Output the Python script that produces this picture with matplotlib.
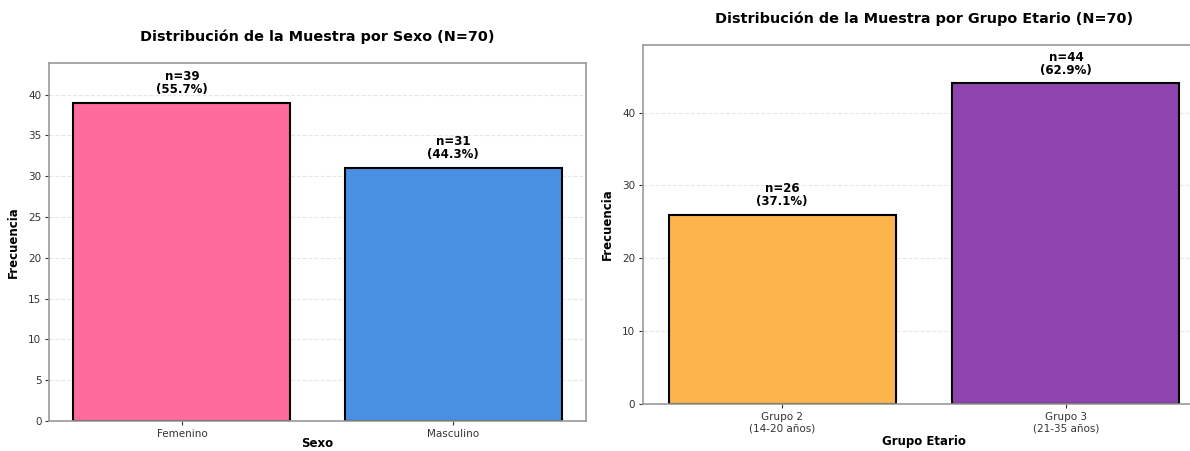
import matplotlib
matplotlib.use("Agg")
import matplotlib.pyplot as plt

N_TOTAL = 70

sexo_labels = ["Femenino", "Masculino"]
sexo_counts = [39, 31]
sexo_colors = ["#FF6B9D", "#4A90E2"]

grupo_labels = ["Grupo 2\n(14-20 años)", "Grupo 3\n(21-35 años)"]
grupo_counts = [26, 44]
grupo_colors = ["#FDB44B", "#8E44AD"]


def bar_panel(ax, labels, counts, colors, title, xlabel, top_factor, xlabelpad):
    x = list(range(len(labels)))
    bars = ax.bar(x, counts, width=0.8, color=colors, edgecolor="black", linewidth=1.5)
    for b, c in zip(bars, counts):
        pct = c / N_TOTAL * 100
        ax.annotate(f"n={c}\n({pct:.1f}%)", (b.get_x() + b.get_width() / 2, c),
                    xytext=(0, 5), textcoords="offset points",
                    ha="center", va="bottom", fontsize=8.5, fontweight="bold",
                    linespacing=1.0)
    ax.set_xticks(x)
    ax.set_xticklabels(labels, fontsize=7.5)
    ax.tick_params(axis="y", labelsize=7.5)
    ax.tick_params(colors="#333333", length=3, pad=2.5)
    ax.set_ylim(0, max(counts) * top_factor)
    ax.set_xlim(-0.49, len(labels) - 0.51)
    ax.set_title(title, fontsize=10.4, fontweight="bold", pad=16)
    ax.set_xlabel(xlabel, fontsize=8.5, fontweight="bold", labelpad=xlabelpad)
    ax.set_ylabel("Frecuencia", fontsize=8.5, fontweight="bold", labelpad=6)
    ax.grid(axis="y", linestyle="--", alpha=0.3)
    ax.set_axisbelow(True)
    for s in ax.spines.values():
        s.set_color("#999999")
        s.set_linewidth(1.2)


fig = plt.figure(figsize=(11.9, 4.51), dpi=100)
ax1 = fig.add_axes([0.0412, 0.0665, 0.4513, 0.7938])
ax2 = fig.add_axes([0.5403, 0.1042, 0.4723, 0.7960])

bar_panel(ax1, sexo_labels, sexo_counts, sexo_colors,
          "Distribución de la Muestra por Sexo (N=70)", "Sexo", 1.125, -1.5)
bar_panel(ax2, grupo_labels, grupo_counts, grupo_colors,
          "Distribución de la Muestra por Grupo Etario (N=70)", "Grupo Etario", 1.12, 1)

fig.savefig("out.png", dpi=100)
